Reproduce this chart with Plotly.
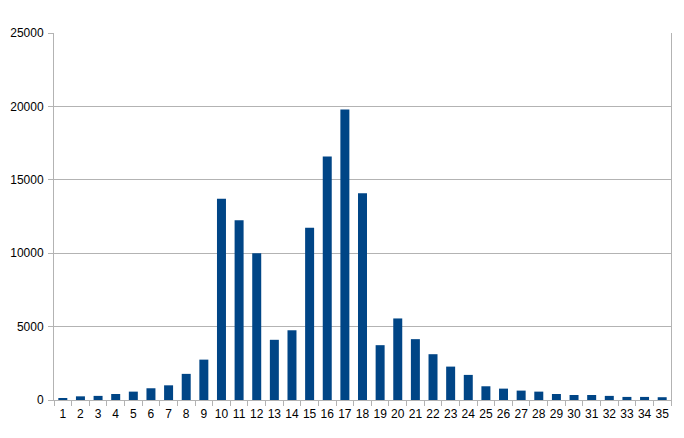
import plotly.graph_objects as go

categories = [str(i) for i in range(1, 36)]
values = [130, 250, 280, 410, 570, 800, 1000, 1780, 2750, 13710,
          12250, 9990, 4100, 4750, 11730, 16580, 19790, 14090, 3735, 5555,
          4145, 3120, 2275, 1710, 935, 775, 640, 570, 410, 340,
          340, 280, 210, 210, 190]
y_ticks = [0, 5000, 10000, 15000, 20000, 25000]
y_tick_labels = ["0", "5000", "10000", "15000", "20000", "25000"]

fig = go.Figure(go.Bar(x=categories, y=values, marker=dict(color="#004586", line=dict(width=0)),
                       hoverinfo="x+y"))

axis_font = dict(family="Liberation Sans, Arial, sans-serif", size=12, color="#000000")
fig.update_layout(
    width=684, height=438,
    margin=dict(l=54, r=13, t=33, b=38, autoexpand=False),
    paper_bgcolor="white", plot_bgcolor="white",
    bargap=0.49, showlegend=False,
    xaxis=dict(type="category", showline=True, linecolor="#b3b3b3", linewidth=1,
               ticks="outside", ticklen=5, tickcolor="#b3b3b3", tickson="boundaries",
               showgrid=False, tickfont=axis_font, mirror=False, tickangle=0,
               automargin=False, ticklabelstandoff=3),
    yaxis=dict(range=[0, 25000], tickvals=y_ticks, ticktext=y_tick_labels, showline=True,
               linecolor="#b3b3b3", linewidth=1, mirror=True, ticks="outside", ticklen=5,
               tickcolor="#b3b3b3", showgrid=True, gridcolor="#b3b3b3", gridwidth=1,
               tickfont=axis_font, zeroline=False, ticklabelstandoff=2, automargin=False),
)
fig.write_html("out.html", config={"displayModeBar": False},
               post_script="document.body.style.margin='0';")
